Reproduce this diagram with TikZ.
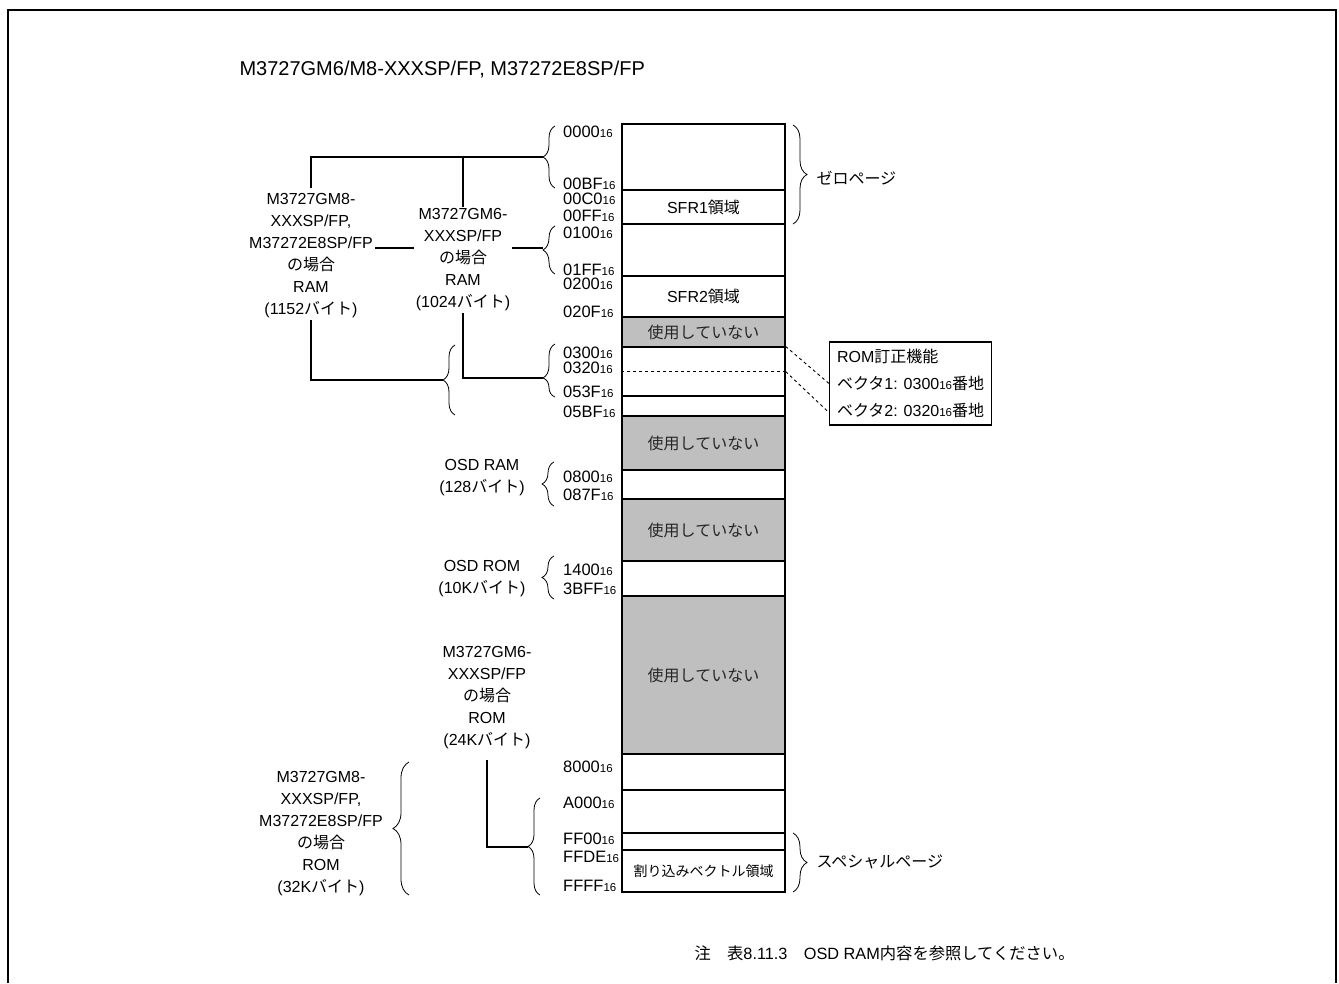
\documentclass[tikz,border=0pt]{standalone}
\usepackage{fontspec}
\setmainfont{Liberation Sans}
\newfontfamily\jpfont{Noto Sans CJK JP}
\usetikzlibrary{decorations.pathreplacing}
\newcommand{\jp}[1]{{\jpfont #1}}
\newcommand{\hx}[1]{#1{\fontsize{11.5}{11.5}\selectfont 16}}
\tikzset{%
    cell/.style={draw,line width=1.2pt,minimum width=163pt,inner sep=0pt,font=\fontsize{16}{20}\selectfont},
    unused/.style={cell,fill=black!25,text=black!85},
    addr/.style={anchor=west,inner sep=0pt,font=\fontsize{16.5}{16.5}\selectfont},
    lbl/.style={align=center,inner sep=2pt,font=\fontsize{16}{22}\selectfont},
    lbr/.style={decorate,decoration={brace,amplitude=12pt},line width=0.8pt},
    rbr/.style={decorate,decoration={brace,amplitude=14pt},line width=0.8pt},
    conn/.style={line width=1.1pt}
}

\begin{document}
\begin{tikzpicture}[x=1pt,y=-1pt]
            \useasboundingbox (0,0) rectangle (1339,983);
            \draw[line width=2pt] (8,983) -- (8,10) -- (1336,10) -- (1336,983);

            \node[anchor=west,font=\fontsize{20}{20}\selectfont] (title) at (236,70) {M3727GM6/M8-XXXSP/FP, M37272E8SP/FP};

            % memory map
            \node[cell,minimum height=66pt] (r1) at (703.5,157) {};
            \node[cell,minimum height=34pt] (r2) at (703.5,207) {SFR1\jp{領域}};
            \node[cell,minimum height=52pt] (r3) at (703.5,250) {};
            \node[cell,minimum height=41pt] (r4) at (703.5,296.5) {SFR2\jp{領域}};
            \node[unused,minimum height=30pt] (r5) at (703.5,332) {\jp{使用していない}};
            \node[cell,minimum height=49pt] (r6) at (703.5,371.5) {};
            \node[cell,minimum height=20pt] (r7) at (703.5,406) {};
            \node[unused,minimum height=54pt] (r8) at (703.5,443) {\jp{使用していない}};
            \node[cell,minimum height=29pt] (r9) at (703.5,484.5) {};
            \node[unused,minimum height=62pt] (r10) at (703.5,530) {\jp{使用していない}};
            \node[cell,minimum height=35pt] (r11) at (703.5,578.5) {};
            \node[unused,minimum height=158pt] (r12) at (703.5,675) {\jp{使用していない}};
            \node[cell,minimum height=36pt] (r13) at (703.5,772) {};
            \node[cell,minimum height=43pt] (r14) at (703.5,811.5) {};
            \node[cell,minimum height=17pt] (r15) at (703.5,841.5) {};
            \node[cell,minimum height=42pt,font=\fontsize{14}{14}\selectfont] (r16) at (703.5,871) {\jp{割り込みベクトル領域}};
            \draw[dashed,line width=0.9pt] (r6.west) -- (r6.east);

            % addresses
            \node[addr] (a0000) at (563,132) {\hx{0000}};
            \node[addr] (a00bf) at (563,184) {\hx{00BF}};
            \node[addr] (a00c0) at (563,199) {\hx{00C0}};
            \node[addr] (a00ff) at (563,216) {\hx{00FF}};
            \node[addr] (a0100) at (563,233) {\hx{0100}};
            \node[addr] (a01ff) at (563,270) {\hx{01FF}};
            \node[addr] (a0200) at (563,284) {\hx{0200}};
            \node[addr] (a020f) at (563,312) {\hx{020F}};
            \node[addr] (a0300) at (563,353) {\hx{0300}};
            \node[addr] (a0320) at (563,368) {\hx{0320}};
            \node[addr] (a053f) at (563,392) {\hx{053F}};
            \node[addr] (a05bf) at (563,412) {\hx{05BF}};
            \node[addr] (a0800) at (563,477) {\hx{0800}};
            \node[addr] (a087f) at (563,495) {\hx{087F}};
            \node[addr] (a1400) at (563,570) {\hx{1400}};
            \node[addr] (a3bff) at (563,589) {\hx{3BFF}};
            \node[addr] (a8000) at (563,767) {\hx{8000}};
            \node[addr] (aa000) at (563,803) {\hx{A000}};
            \node[addr] (aff00) at (563,839) {\hx{FF00}};
            \node[addr] (affde) at (563,857) {\hx{FFDE}};
            \node[addr] (affff) at (563,886) {\hx{FFFF}};

            % braces
            \draw[lbr] (555,188) -- (555,126);
            \coordinate (b1) at (543,157);
            \draw[lbr] (555,274) -- (555,226);
            \coordinate (b2) at (543,248);
            \draw[lbr,decoration={aspect=0.36}] (555,397) -- (555,344);
            \coordinate (b3) at (543,378);
            \draw[lbr] (455,415) -- (455,345);
            \coordinate (b4) at (443,380);
            \draw[lbr] (554,506) -- (554,462);
            \coordinate (b5) at (542,484);
            \draw[lbr] (554,599) -- (554,556);
            \coordinate (b6) at (542,577);
            \draw[lbr] (540,895) -- (540,798);
            \coordinate (b7) at (528,847);
            \draw[lbr,decoration={amplitude=16pt}] (409,895) -- (409,762);
            \draw[rbr] (793,125) -- (793,224);
            \draw[rbr] (793,833) -- (793,892);

            \node[anchor=west,font=\fontsize{16}{16}\selectfont] (zero) at (813,178) {\jp{ゼロページ}};
            \node[anchor=west,font=\fontsize{16}{16}\selectfont] (special) at (813,862) {\jp{スペシャルページ}};

            % area labels
            \node[lbl] (m8ram) at (311,256) {M3727GM8-\\XXXSP/FP,\\M37272E8SP/FP\\\jp{の場合}\\RAM\\(1152\jp{バイト})};
            \node[lbl] (m6ram) at (463,260) {M3727GM6-\\XXXSP/FP\\\jp{の場合}\\RAM\\(1024\jp{バイト})};
            \node[lbl] (osdram) at (482,478) {OSD RAM\\(128\jp{バイト})};
            \node[lbl] (osdrom) at (482,579) {OSD ROM\\(10K\jp{バイト})};
            \node[lbl] (m6rom) at (487,698) {M3727GM6-\\XXXSP/FP\\\jp{の場合}\\ROM\\(24K\jp{バイト})};
            \node[lbl] (m8rom) at (321,834) {M3727GM8-\\XXXSP/FP,\\M37272E8SP/FP\\\jp{の場合}\\ROM\\(32K\jp{バイト})};

            \draw[conn] ([yshift=4pt]m8ram.north) |- (b1);
            \draw[conn] (m6ram.north) |- (b1);
            \draw[conn] (m8ram.east |- b2) -- (m6ram.west |- b2);
            \draw[conn] (m6ram.east |- b2) -- (b2);
            \draw[conn] (m6ram.south) |- (b3);
            \draw[conn] (m8ram.south) |- (b4);
            \draw[conn] ([yshift=-9pt]m6rom.south) |- (b7);

            % ROM correction
            \node[draw,line width=1.2pt,anchor=west,align=left,minimum width=162pt,minimum height=83pt,font=\fontsize{16}{27}\selectfont] (romfix) at (829,383.5) {ROM\jp{訂正機能}\\\jp{ベクタ}1: \hx{0300}\jp{番地}\\\jp{ベクタ}2: \hx{0320}\jp{番地}};
            \draw[dashed,line width=0.9pt] (r6.north east) -- (romfix.west);
            \draw[dashed,line width=0.9pt] (r6.east) -- ([yshift=13pt]romfix.south west);

            \node[anchor=west,font=\fontsize{16.3}{16.3}\selectfont] (note) at (691,953) {\jp{注　表}8.11.3\jp{　}OSD RAM\jp{内容を参照してください。}};
        \end{tikzpicture}
\end{document}
